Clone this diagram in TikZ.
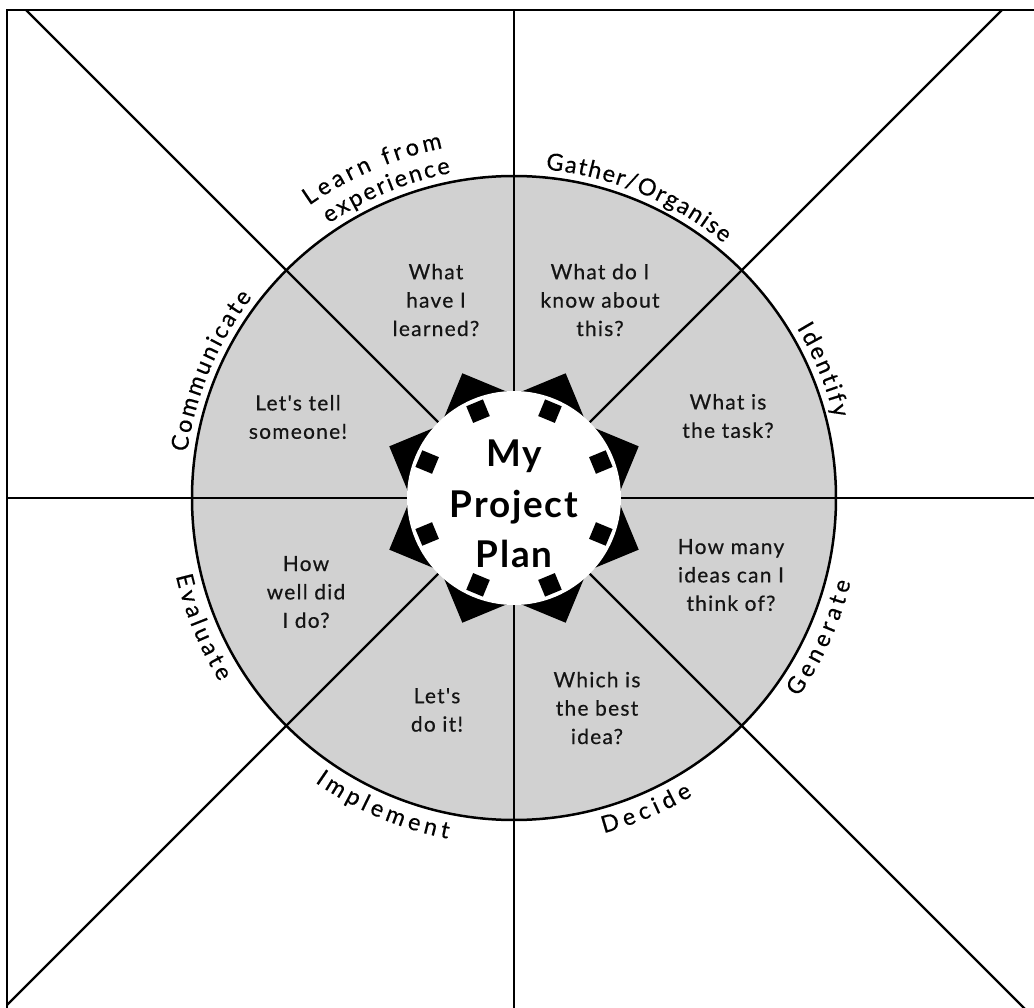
\documentclass[tikz,border=0pt]{standalone}
\usepackage{fontspec}
\setmainfont{Lato}
\newfontfamily\qfont[LetterSpace=6,FakeBold=0.5]{Lato}
\newfontfamily\tfont[FakeBold=0.4]{Lato}
\newfontfamily\planfont[LetterSpace=5]{Lato}
\usetikzlibrary{decorations.text}
\definecolor{sectorgray}{RGB}{209,209,209}
\definecolor{inktext}{RGB}{20,20,20}
\begin{document}
\begin{tikzpicture}[x=1bp,y=1bp,
  rule/.style={line width=2.4bp,black},
  frameline/.style={line width=2bp,black},
  rim/.style={line width=2.5bp,black},
  tooth/.style={fill=black},
  question/.style={align=center,text=inktext,inner sep=0pt,
    font=\qfont\fontsize{21}{28.5}\selectfont},
  arclabel/.style={decorate,decoration={text along path,text align=fit to path,
    text={|\tfont\fontsize{23.5}{26}\selectfont|#1}}},
]
\useasboundingbox (-514,-510) rectangle (520,498);
\begin{scope}
\clip (-514,-510) rectangle (520,498);
% frame
\draw[frameline] (-507,-540) -- (-507,488) -- (540,488);
% gray disc
\fill[sectorgray] (0,0) circle[radius=322];
% radial lines
\coordinate (top) at (0,488);
\coordinate (bottom) at (0,-540);
\coordinate (left) at (-507,0);
\coordinate (right) at (540,0);
\coordinate (tl) at (-488,488);
\coordinate (br) at (540,-540);
\coordinate (tr) at (488,488);
\coordinate (bl) at (-507,-507);
\draw[rule] (top) -- (bottom);
\draw[rule] (left) -- (right);
\draw[rule] (tl) -- (br);
\draw[rule] (tr) -- (bl);
% rim
\draw[rim] (0,0) circle[radius=322];
% teeth
\foreach \a in {22.5,67.5,...,337.5} {
  \fill[tooth] (\a:135) -- ++(\a+135:52) -- ++(\a+225:52) -- ++(\a+315:52) -- cycle;
}
% hub
\fill[white] (0,0) circle[radius=107];
% small squares
\foreach \a in {22.5,67.5,...,337.5} {
  \fill[tooth,rotate=\a] (85,-9) rectangle (103,9);
}
\end{scope}
% curved labels
\path[arclabel={Gather/Organise}] (84.5:330) arc[start angle=84.5,end angle=50.5,radius=330];
\path[arclabel={Identify}] (31:330) arc[start angle=31,end angle=14,radius=330];
\path[arclabel={Communicate}] (172:330) arc[start angle=172,end angle=142.5,radius=330];
\path[arclabel={experience}] (124:331) arc[start angle=124,end angle=101,radius=331];
\path[arclabel={Learn from}] (125:357) arc[start angle=125,end angle=101.5,radius=357];
\path[arclabel={Generate}] (-35:347) arc[start angle=-35,end angle=-14,radius=347];
\path[arclabel={Decide}] (-75:347) arc[start angle=-75,end angle=-59,radius=347];
\path[arclabel={Implement}] (-125:347) arc[start angle=-125,end angle=-101,radius=347];
\path[arclabel={Evaluate}] (193:347) arc[start angle=193,end angle=212,radius=347];
% questions
\node[question] (q1) at (-78,198) {What\\have I\\learned?};
\node[question] (q2) at (86,198) {What do I\\know about\\this?};
\node[question] (q3) at (214,82) {What is\\the task?};
\node[question] (q4) at (217,-77) {How many\\ideas can I\\think of?};
\node[question] (q5) at (83,-210) {Which is\\the best\\idea?};
\node[question] (q6) at (-77,-212) {Let's\\do it!};
\node[question] (q7) at (-208,-94) {How\\well did\\I do?};
\node[question] (q8) at (-216,81) {Let's tell\\someone!};
% centre
\node[align=center,inner sep=0pt,font=\planfont\bfseries\fontsize{37}{51}\selectfont] (plan) at (0,-6) {My\\Project\\Plan};
\end{tikzpicture}
\end{document}
